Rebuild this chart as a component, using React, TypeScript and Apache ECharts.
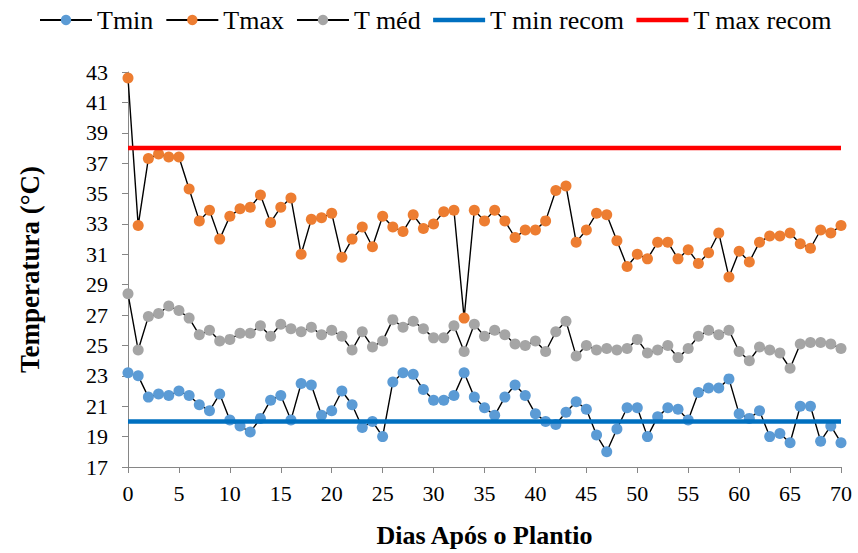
import React, { useEffect, useRef } from "react";
import * as echarts from "echarts";

const days: number[] = Array.from({ length: 71 }, (_, i) => i);

const tmin: number[] = [
  23.2, 23.0, 21.6, 21.8, 21.7, 22.0, 21.7, 21.1, 20.7, 21.8,
  20.1, 19.7, 19.3, 20.2, 21.4, 21.7, 20.1, 22.5, 22.4, 20.4,
  20.7, 22.0, 21.1, 19.6, 20.0, 19.0, 22.6, 23.2, 23.1, 22.1,
  21.4, 21.4, 21.7, 23.2, 21.6, 20.9, 20.4, 21.6, 22.4, 21.7,
  20.5, 20.0, 19.8, 20.6, 21.3, 20.8, 19.1, 18.0, 19.5, 20.9,
  20.9, 19.0, 20.3, 20.9, 20.8, 20.1, 21.9, 22.2, 22.2, 22.8,
  20.5, 20.2, 20.7, 19.0, 19.2, 18.6, 21.0, 21.0, 18.7, 19.7, 18.6,
];

const tmax: number[] = [
  42.6, 32.9, 37.3, 37.6, 37.4, 37.4, 35.3, 33.2, 33.9, 32.0,
  33.5, 34.0, 34.1, 34.9, 33.1, 34.1, 34.7, 31.0, 33.3, 33.4,
  33.7, 30.8, 32.0, 32.8, 31.5, 33.5, 32.8, 32.5, 33.6, 32.7,
  33.0, 33.8, 33.9, 26.8, 33.9, 33.2, 33.9, 33.2, 32.1, 32.6,
  32.6, 33.2, 35.2, 35.5, 31.8, 32.6, 33.7, 33.6, 31.9, 30.2,
  31.0, 30.7, 31.8, 31.8, 30.7, 31.3, 30.4, 31.1, 32.4, 29.5,
  31.2, 30.5, 31.8, 32.2, 32.2, 32.4, 31.7, 31.4, 32.6, 32.4, 32.9,
];

const tmed: number[] = [
  28.4, 24.7, 26.9, 27.1, 27.6, 27.3, 26.8, 25.7, 26.0, 25.3,
  25.4, 25.8, 25.8, 26.3, 25.6, 26.4, 26.1, 25.9, 26.2, 25.7,
  26.0, 25.6, 24.7, 25.9, 24.9, 25.3, 26.7, 26.2, 26.6, 26.1,
  25.5, 25.5, 26.3, 24.6, 26.4, 25.6, 26.0, 25.7, 25.1, 25.0,
  25.3, 24.6, 25.9, 26.6, 24.3, 25.0, 24.7, 24.8, 24.7, 24.8,
  25.4, 24.5, 24.7, 25.0, 24.2, 24.8, 25.6, 26.0, 25.7, 26.0,
  24.6, 24.0, 24.9, 24.7, 24.5, 23.5, 25.1, 25.2, 25.2, 25.1, 24.8,
];

const tMinRecom = 20;
const tMaxRecom = 38;
const recomSpan: number[] = [0, 70];

const yTicks: number[] = [17, 19, 21, 23, 25, 27, 29, 31, 33, 35, 37, 39, 41, 43];

const seriesNames: string[] = ["Tmin", "Tmax", "T méd", "T min recom", "T max recom"];
const markerColors: string[] = ["#5B9BD5", "#ED7D31", "#A5A5A5"];
const recomColors: string[] = ["#0070C0", "#FF0000"];

const FONT = "Liberation Serif, Times New Roman, serif";
const AXIS_GRAY = "#868686";

export default function App() {
  const ref = useRef<HTMLDivElement>(null);

  useEffect(() => {
    if (!ref.current) return;
    const chart = echarts.init(ref.current, undefined, { renderer: "svg" });

    const dataSeries = [tmin, tmax, tmed].map((vals, i) => ({
      name: seriesNames[i],
      type: "line",
      data: days.map((d, j) => [d, vals[j]]),
      symbol: "circle",
      symbolSize: 11,
      showSymbol: true,
      itemStyle: { color: markerColors[i] },
      lineStyle: { color: "#000000", width: 1.4 },
      z: 2 + i,
    }));

    const recomSeries = [tMinRecom, tMaxRecom].map((v, i) => ({
      name: seriesNames[3 + i],
      type: "line",
      data: recomSpan.map((d) => [d, v]),
      symbol: "none",
      itemStyle: { color: recomColors[i] },
      lineStyle: { color: recomColors[i], width: 4.5 },
      z: 6 + i,
    }));

    const lineIcon = "path://M0,0L52,0L52,4.5L0,4.5Z";

    chart.setOption({
      animation: false,
      textStyle: { fontFamily: FONT },
      legend: {
        data: seriesNames.map((n, i) => (i >= 3 ? { name: n, icon: lineIcon } : { name: n })),
        left: 34,
        top: 2,
        itemWidth: 52,
        itemHeight: 13,
        itemGap: 12,
        symbolKeepAspect: true,
        textStyle: { fontFamily: FONT, fontSize: 26, color: "#000" },
      },
      grid: { left: 128, right: 17, top: 72, bottom: 85 },
      xAxis: {
        type: "value",
        min: 0,
        max: 70,
        interval: 5,
        name: "Dias Após o Plantio",
        nameLocation: "middle",
        nameGap: 55,
        nameTextStyle: { fontFamily: FONT, fontSize: 26, fontWeight: "bold", color: "#000" },
        axisLine: { show: true, onZero: false, lineStyle: { color: AXIS_GRAY, width: 1 } },
        axisTick: { show: true, length: 6, inside: false, lineStyle: { color: AXIS_GRAY } },
        axisLabel: { fontFamily: FONT, fontSize: 22, color: "#000", margin: 15 },
        splitLine: { show: false },
      },
      yAxis: {
        type: "value",
        min: 17,
        max: 43,
        name: "Temperatura (°C)",
        nameLocation: "middle",
        nameGap: 85,
        nameRotate: 90,
        nameTextStyle: { fontFamily: FONT, fontSize: 27, fontWeight: "bold", color: "#000" },
        axisLine: { show: true, lineStyle: { color: AXIS_GRAY, width: 1 } },
        axisTick: { show: true, length: 6, customValues: yTicks, lineStyle: { color: AXIS_GRAY } },
        axisLabel: { fontFamily: FONT, fontSize: 22, color: "#000", margin: 20, customValues: yTicks },
        splitLine: { show: false },
      },
      series: [...dataSeries, ...recomSeries],
    });

    return () => chart.dispose();
  }, []);

  return (
    <div
      ref={ref}
      style={{ position: "fixed", left: 0, top: 0, width: 858, height: 553, background: "#fff", fontFamily: FONT }}
    />
  );
}
